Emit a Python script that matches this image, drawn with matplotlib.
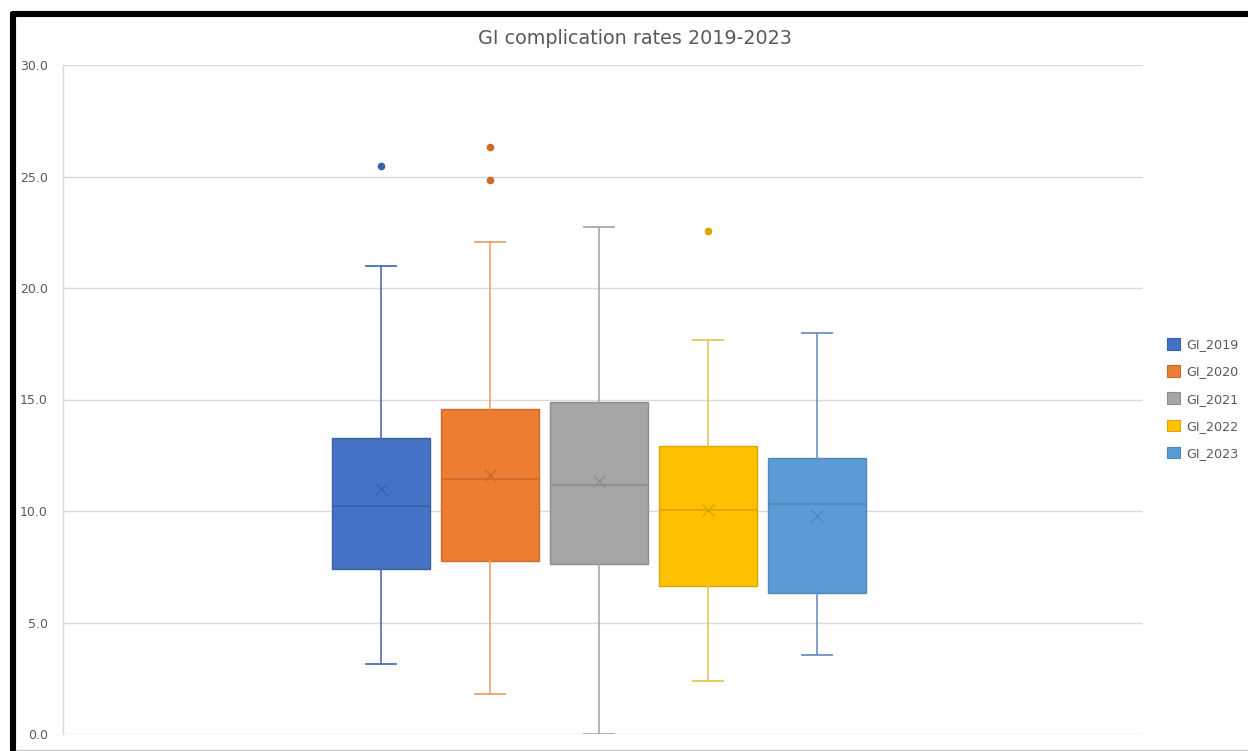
import matplotlib
matplotlib.use("Agg")
import matplotlib.pyplot as plt
from matplotlib.lines import Line2D
from matplotlib.patches import Patch

# -------------------- Summary statistics per year --------------------
labels = ["GI_2019", "GI_2020", "GI_2021", "GI_2022", "GI_2023"]
q1 = [7.39, 7.74, 7.64, 6.65, 6.31]
medians = [10.22, 11.42, 11.15, 10.03, 10.30]
q3 = [13.29, 14.57, 14.89, 12.91, 12.38]
whisker_low = [3.13, 1.81, 0.0, 2.39, 3.54]
whisker_high = [20.99, 22.06, 22.74, 17.65, 18.00]
means = [10.97, 11.61, 11.36, 10.04, 9.76]
outliers = [[25.46], [26.31, 24.84], [], [22.56], []]

fill_colors = ["#4472C4", "#ED7D31", "#A5A5A5", "#FFC000", "#5B9BD5"]
edge_colors = ["#3A62A8", "#CC6A29", "#8E8E8E", "#DBA500", "#4E87BA"]
line_colors = ["#4A6FB5", "#EBA272", "#A8A8A8", "#EAC55A", "#6A93C4"]

text_grey = "#595959"
grid_grey = "#D9D9D9"

fig = plt.figure(figsize=(12.48, 7.51), dpi=100)
ax = fig.add_axes([63 / 1248, 1 - 734 / 751, 1080 / 1248, 669 / 751])

for i, lab in enumerate(labels):
    stats = [dict(label=lab, q1=q1[i], med=medians[i], q3=q3[i],
                  whislo=whisker_low[i], whishi=whisker_high[i],
                  mean=means[i], fliers=outliers[i])]
    ax.bxp(stats, positions=[i + 1], widths=0.9, capwidths=0.28,
           patch_artist=True, showmeans=True, zorder=3,
           boxprops=dict(facecolor=fill_colors[i], edgecolor=edge_colors[i], linewidth=1.0),
           medianprops=dict(color=edge_colors[i], linewidth=1.2),
           whiskerprops=dict(color=line_colors[i], linewidth=1.2),
           capprops=dict(color=line_colors[i], linewidth=1.3),
           meanprops=dict(marker="x", markeredgecolor=edge_colors[i], markersize=8.5,
                          markeredgewidth=1.0),
           flierprops=dict(marker="o", markerfacecolor=edge_colors[i],
                           markeredgecolor=edge_colors[i], markersize=4.5))

ax.set_xlim(-1.915, 7.988)
ax.set_ylim(0, 30)
ax.set_yticks([0, 5, 10, 15, 20, 25, 30])
ax.set_yticklabels([f"{v:.1f}" for v in [0, 5, 10, 15, 20, 25, 30]])
ax.set_xticks([])
ax.tick_params(axis="y", length=0, pad=11, labelsize=9, labelcolor=text_grey)
ax.yaxis.grid(True, color=grid_grey, linewidth=1.0, zorder=0)
ax.set_axisbelow(True)
for side in ["top", "right", "bottom"]:
    ax.spines[side].set_visible(False)
ax.spines["left"].set_color(grid_grey)
ax.spines["left"].set_linewidth(1.0)

fig.text(0.509, 1 - 38 / 751, "GI complication rates 2019-2023", ha="center", va="center",
         fontsize=13.8, color=text_grey)

# Legend on the right
handles = [Patch(facecolor=c, edgecolor=e, linewidth=0.8) for c, e in zip(fill_colors, edge_colors)]
fig.legend(handles, labels, loc="center left", bbox_to_anchor=(1162 / 1248, 1 - 399 / 751),
           frameon=False, fontsize=9.2, labelcolor=text_grey, handlelength=1.0, handleheight=1.0,
           handletextpad=0.5, labelspacing=1.1, borderaxespad=0)

# Chart frame
fig.add_artist(Line2D([12.5 / 1248, 1.0], [1 - 13.5 / 751, 1 - 13.5 / 751], color="black",
                      linewidth=4.4, solid_capstyle="round"))
fig.add_artist(Line2D([12.5 / 1248, 12.5 / 1248], [0.0, 1 - 13.5 / 751], color="black",
                      linewidth=4.4, solid_capstyle="round"))
fig.add_artist(Line2D([16 / 1248, 1.0], [1 - 749.5 / 751, 1 - 749.5 / 751], color="#C8C8C8",
                      linewidth=1.0))

fig.savefig("out.png", dpi=100)
